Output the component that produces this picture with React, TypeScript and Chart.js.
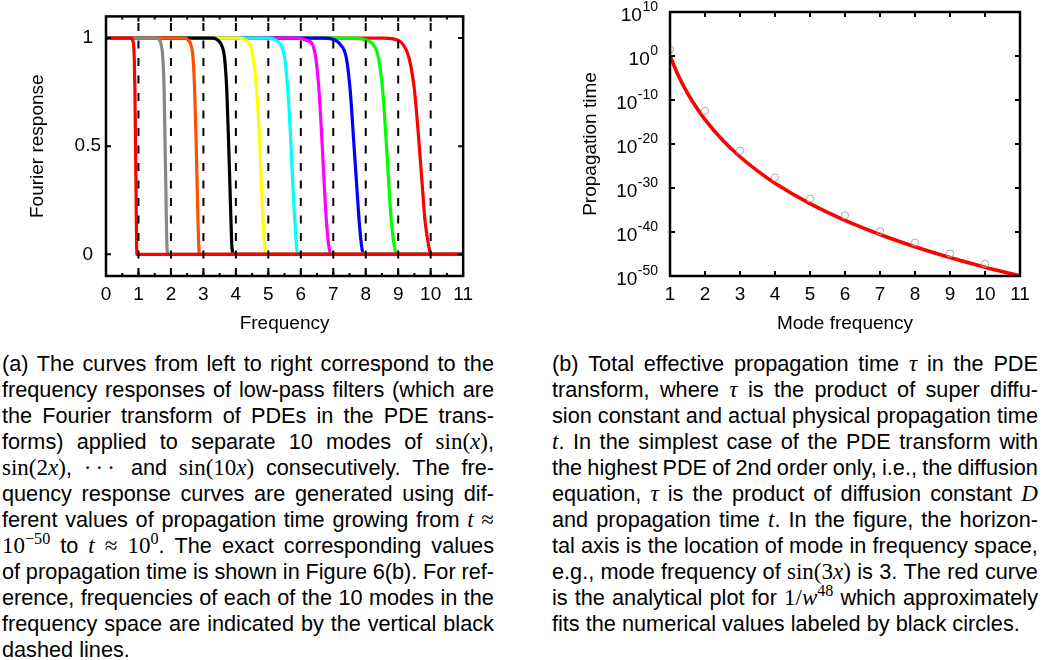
import React, { useEffect, useRef } from 'react';
import { Chart, registerables } from 'chart.js';

Chart.register(...registerables);

// ---------------- Data: panel (a) ----------------
const frequencyTicks = [0, 1, 2, 3, 4, 5, 6, 7, 8, 9, 10, 11];
const frequencyMinorTicks = [0.5, 1.5, 2.5, 3.5, 4.5, 5.5, 6.5, 7.5, 8.5, 9.5, 10.5];
const responseTicks = [0, 0.5, 1];
const responseTickLabels = ['0', '0.5', '1'];
const modeFrequencies = [1, 2, 3, 4, 5, 6, 7, 8, 9, 10];
const filterColors = ['#ff0000', '#888888', '#ff4f00', '#000000', '#ffff00', '#00ffff', '#ff00ff', '#0000ff', '#00ff00', '#ff0000'];
// response level sampled along each filter curve
const responseLevels = [1, 1, 0.99, 0.97, 0.91, 0.76, 0.5, 0.3, 0.15, 0.03, 0, 0];
// frequency at which each filter curve reaches the level above
const filter1X = [0, 0.78, 0.82, 0.85, 0.87, 0.89, 0.91, 0.925, 0.935, 0.945, 0.95, 11];
const filter2X = [0, 1.58, 1.65, 1.70, 1.75, 1.79, 1.82, 1.845, 1.86, 1.88, 1.91, 11];
const filter3X = [0, 2.42, 2.54, 2.61, 2.68, 2.73, 2.78, 2.81, 2.835, 2.86, 2.89, 11];
const filter4X = [0, 3.30, 3.45, 3.55, 3.65, 3.72, 3.78, 3.82, 3.85, 3.88, 3.94, 11];
const filter5X = [0, 4.12, 4.30, 4.43, 4.53, 4.64, 4.74, 4.79, 4.84, 4.89, 4.94, 11];
const filter6X = [0, 5.00, 5.22, 5.38, 5.50, 5.60, 5.70, 5.76, 5.82, 5.87, 5.93, 11];
const filter7X = [0, 5.90, 6.17, 6.36, 6.46, 6.56, 6.66, 6.73, 6.79, 6.87, 6.94, 11];
const filter8X = [0, 6.75, 7.06, 7.22, 7.40, 7.52, 7.64, 7.73, 7.80, 7.88, 7.93, 11];
const filter9X = [0, 7.65, 8.03, 8.23, 8.39, 8.52, 8.64, 8.72, 8.79, 8.89, 8.96, 11];
const filter10X = [0, 8.55, 8.99, 9.15, 9.33, 9.50, 9.65, 9.75, 9.83, 9.95, 10.0, 11];
const filterXs = [filter1X, filter2X, filter3X, filter4X, filter5X, filter6X, filter7X, filter8X, filter9X, filter10X];

// ---------------- Data: panel (b) ----------------
const modeAxisTicks = [1, 2, 3, 4, 5, 6, 7, 8, 9, 10, 11];
const propagationTickExponents = [10, 0, -10, -20, -30, -40, -50];
const fitFrequencies = [1, 1.25, 1.5, 1.75, 2, 2.5, 3, 3.5, 4, 5, 6, 7, 8, 9, 10, 11];
const fitLog10 = [0, -4.65, -8.45, -11.67, -14.45, -19.1, -22.9, -26.1, -28.9, -33.55, -37.35, -40.56, -43.35, -45.8, -48, -50];
const measuredFrequencies = [1, 2, 3, 4, 5, 6, 7, 8, 9, 10];
const measuredLog10 = [1.5, -12.5, -21.5, -27.6, -32.4, -36.2, -39.8, -42.4, -44.9, -47.2];

// ---------------- Captions ----------------
const captionA = [
  '(a) The curves from left to right correspond to the',
  'frequency responses of low-pass filters (which are',
  'the Fourier transform of PDEs in the PDE trans-',
  'forms) applied to separate 10 modes of $sin(x)$,',
  '$sin(2x)$, $···$ and $sin(10x)$ consecutively. The fre-',
  'quency response curves are generated using dif-',
  'ferent values of propagation time growing from $t$ $≈$',
  '$10^{−50}$ to $t$ $≈$ $10^{0}$. The exact corresponding values',
  'of propagation time is shown in Figure 6(b). For ref-',
  'erence, frequencies of each of the 10 modes in the',
  'frequency space are indicated by the vertical black',
  'dashed lines.',
];
const captionB = [
  '(b) Total effective propagation time $τ$ in the PDE',
  'transform, where $τ$ is the product of super diffu-',
  'sion constant and actual physical propagation time',
  '$t$. In the simplest case of the PDE transform with',
  'the highest PDE of 2nd order only, i.e., the diffusion',
  'equation, $τ$ is the product of diffusion constant $D$',
  'and propagation time $t$. In the figure, the horizon-',
  'tal axis is the location of mode in frequency space,',
  'e.g., mode frequency of $sin(3x)$ is 3. The red curve',
  'is the analytical plot for $1/w^{48}$ which approximately',
  'fits the numerical values labeled by black circles.',
];

const SANS = "'Liberation Sans', Arial, Helvetica, sans-serif";
const SERIF = "'Liberation Serif', 'DejaVu Serif', serif";
const AXIS_FONT = { family: SANS, size: 19 };

Chart.defaults.font.family = SANS;
Chart.defaults.color = '#000';

function framePlugin(xMajor: number[], xMinor: number[], yMajor: number[], yIsLog: boolean) {
  return {
    id: 'frameTicks',
    afterDatasetsDraw(chart: any) {
      const { ctx, chartArea: a, scales } = chart;
      ctx.save();
      ctx.strokeStyle = '#000';
      ctx.lineWidth = 2;
      ctx.beginPath();
      for (const v of xMajor) {
        const px = scales.x.getPixelForValue(v);
        ctx.moveTo(px, a.bottom); ctx.lineTo(px, a.bottom - 5);
        ctx.moveTo(px, a.top); ctx.lineTo(px, a.top + 5);
      }
      for (const v of xMinor) {
        const px = scales.x.getPixelForValue(v);
        ctx.moveTo(px, a.bottom); ctx.lineTo(px, a.bottom - 3);
        ctx.moveTo(px, a.top); ctx.lineTo(px, a.top + 3);
      }
      for (const v of yMajor) {
        const py = scales.y.getPixelForValue(yIsLog ? Math.pow(10, v) : v);
        ctx.moveTo(a.left, py); ctx.lineTo(a.left + 5, py);
        ctx.moveTo(a.right, py); ctx.lineTo(a.right - 5, py);
      }
      ctx.stroke();
      ctx.lineWidth = 2.5;
      ctx.strokeRect(a.left, a.top, a.right - a.left, a.bottom - a.top);
      ctx.restore();
    },
  };
}

const powerLabelsPlugin = {
  id: 'powerLabels',
  afterDraw(chart: any) {
    const { ctx, chartArea: a, scales } = chart;
    ctx.save();
    ctx.fillStyle = '#000';
    ctx.textAlign = 'left';
    ctx.textBaseline = 'alphabetic';
    for (const e of propagationTickExponents) {
      const py = scales.y.getPixelForValue(Math.pow(10, e));
      const sup = String(e);
      ctx.font = `14px ${SANS}`;
      const ws = ctx.measureText(sup).width;
      ctx.font = `19px ${SANS}`;
      const wb = ctx.measureText('10').width;
      const right = a.left - 12;
      const base = py + 8.5;
      ctx.fillText('10', right - ws - wb - 0.5, base);
      ctx.font = `14px ${SANS}`;
      ctx.fillText(sup, right - ws, base - 9.3);
    }
    ctx.restore();
  },
};

function filtersConfig(): any {
  const datasets: any[] = [];
  modeFrequencies.forEach((f) => {
    datasets.push({
      data: [{ x: f, y: -0.1 }, { x: f, y: 1.1 }],
      borderColor: '#000',
      borderWidth: 2,
      borderDash: [8, 9.5],
      pointRadius: 0,
      order: 0,
    });
  });
  filterXs.forEach((xs, i) => {
    datasets.push({
      data: xs.map((x, k) => ({ x, y: responseLevels[k] })),
      borderColor: filterColors[i],
      borderWidth: 3.2,
      pointRadius: 0,
      cubicInterpolationMode: 'monotone',
      order: i + 1,
    });
  });
  return {
    type: 'line',
    data: { datasets },
    options: {
      responsive: false,
      animation: false,
      layout: { padding: { top: 12, right: 12, left: 0, bottom: 0 } },
      plugins: { legend: { display: false }, tooltip: { enabled: false } },
      scales: {
        x: {
          type: 'linear', min: 0, max: 11,
          afterBuildTicks: (s: any) => { s.ticks = frequencyTicks.map((v) => ({ value: v })); },
          afterFit: (s: any) => { s.height = 64; },
          grid: { display: false, drawTicks: false },
          border: { display: false },
          ticks: { font: AXIS_FONT, color: '#000', padding: 7, autoSkip: false, maxRotation: 0, callback: (v: any) => String(v) },
          title: { display: true, text: 'Frequency', font: AXIS_FONT, color: '#000', padding: { top: 0, bottom: 5 } },
        },
        y: {
          type: 'linear', min: -0.1, max: 1.1,
          afterBuildTicks: (s: any) => { s.ticks = responseTicks.map((v) => ({ value: v })); },
          afterFit: (s: any) => { s.width = 106; },
          grid: { display: false, drawTicks: false },
          border: { display: false },
          ticks: {
            font: AXIS_FONT, color: '#000', padding: 5, crossAlign: 'center', autoSkip: false,
            callback: (v: any) => responseTickLabels[responseTicks.indexOf(v)] ?? '',
          },
          title: { display: true, text: 'Fourier response', font: AXIS_FONT, color: '#000', padding: { top: 26, bottom: 0 } },
        },
      },
    },
    plugins: [framePlugin(frequencyTicks, frequencyMinorTicks, responseTicks, false)],
  };
}

function propagationConfig(): any {
  return {
    type: 'line',
    data: {
      datasets: [
        {
          data: measuredFrequencies.map((x, i) => ({ x, y: Math.pow(10, measuredLog10[i]) })),
          showLine: false,
          pointRadius: 3.6,
          pointBorderWidth: 1,
          pointBorderColor: '#aaaaaa',
          pointBackgroundColor: 'rgba(0,0,0,0)',
          order: 0,
        },
        {
          data: fitFrequencies.map((x, i) => ({ x, y: Math.pow(10, fitLog10[i]) })),
          borderColor: '#ff0000',
          borderWidth: 3.6,
          pointRadius: 0,
          cubicInterpolationMode: 'monotone',
          order: 1,
        },
      ],
    },
    options: {
      responsive: false,
      animation: false,
      layout: { padding: { top: 12, right: 30, left: 0, bottom: 0 } },
      plugins: { legend: { display: false }, tooltip: { enabled: false } },
      scales: {
        x: {
          type: 'linear', min: 1, max: 11,
          afterBuildTicks: (s: any) => { s.ticks = modeAxisTicks.map((v) => ({ value: v })); },
          afterFit: (s: any) => { s.height = 64; },
          grid: { display: false, drawTicks: false },
          border: { display: false },
          ticks: { font: AXIS_FONT, color: '#000', padding: 7, autoSkip: false, maxRotation: 0, callback: (v: any) => String(v) },
          title: { display: true, text: 'Mode frequency', font: AXIS_FONT, color: '#000', padding: { top: 0, bottom: 5 } },
        },
        y: {
          type: 'logarithmic', min: 1e-50, max: 1e10,
          afterBuildTicks: (s: any) => { s.ticks = propagationTickExponents.map((e) => ({ value: Math.pow(10, e) })); },
          afterFit: (s: any) => { s.width = 140; },
          grid: { display: false, drawTicks: false },
          border: { display: false },
          ticks: { display: false },
          title: { display: true, text: 'Propagation time', font: AXIS_FONT, color: '#000', padding: { top: 49, bottom: 0 } },
        },
      },
    },
    plugins: [framePlugin(modeAxisTicks, [], propagationTickExponents, true), powerLabelsPlugin],
  };
}

function ChartCanvas({ left, top, width, height, make }: { left: number; top: number; width: number; height: number; make: () => any }) {
  const ref = useRef<HTMLCanvasElement | null>(null);
  useEffect(() => {
    if (!ref.current) return;
    const chart = new Chart(ref.current, make());
    return () => chart.destroy();
  }, []);
  return (
    <canvas
      ref={ref}
      width={width}
      height={height}
      style={{ position: 'absolute', left, top, width, height }}
    />
  );
}

function renderMath(s: string, keyBase: string): React.ReactNode[] {
  const out: React.ReactNode[] = [];
  let i = 0;
  let k = 0;
  while (i < s.length) {
    if (s.startsWith('sin', i)) {
      out.push(<span key={keyBase + k++} style={{ fontStyle: 'normal' }}>sin</span>);
      i += 3;
      continue;
    }
    if (s.startsWith('^{', i)) {
      const j = s.indexOf('}', i);
      out.push(
        <span key={keyBase + k++} style={{ fontSize: '0.7em', position: 'relative', top: '-0.55em' }}>
          {renderMath(s.slice(i + 2, j), keyBase + 's' + k)}
        </span>
      );
      i = j + 1;
      continue;
    }
    const c = s[i];
    if (c === '·') {
      out.push(<span key={keyBase + k++} style={{ letterSpacing: '0.18em' }}>{'·'}</span>);
    } else if (/[A-Za-zτ]/.test(c)) {
      out.push(<span key={keyBase + k++} style={{ fontStyle: 'italic' }}>{c}</span>);
    } else {
      out.push(<span key={keyBase + k++} style={{ fontStyle: 'normal' }}>{c}</span>);
    }
    i++;
  }
  return out;
}

function renderWord(w: string, key: string) {
  const parts = w.split('$');
  return (
    <span key={key} style={{ whiteSpace: 'nowrap' }}>
      {parts.map((p, idx) =>
        idx % 2 === 1 ? (
          <span key={idx} style={{ fontFamily: SERIF, fontSize: '1.06em' }}>{renderMath(p, key + '-' + idx + '-')}</span>
        ) : (
          <span key={idx}>{p}</span>
        )
      )}
    </span>
  );
}

function Caption({ lines, left, top, width }: { lines: string[]; left: number; top: number; width: number }) {
  return (
    <div style={{ position: 'absolute', left, top, width, fontFamily: SANS, fontSize: 21.7, color: '#000' }}>
      {lines.map((line, li) => {
        const last = li === lines.length - 1;
        const words = line.split(' ');
        return (
          <div
            key={li}
            style={{
              display: 'flex',
              justifyContent: last ? 'flex-start' : 'space-between',
              columnGap: last ? '0.278em' : 0,
              alignItems: 'baseline',
              height: 26,
              lineHeight: '26px',
              whiteSpace: 'nowrap',
            }}
          >
            {words.map((w, wi) => renderWord(w, `${li}-${wi}`))}
          </div>
        );
      })}
    </div>
  );
}

export default function App() {
  return (
    <div style={{ position: 'absolute', left: 0, top: 0, width: 1050, height: 660, background: '#fff', overflow: 'hidden' }}>
      <ChartCanvas left={0} top={0} width={480} height={340} make={filtersConfig} />
      <ChartCanvas left={530} top={0} width={520} height={340} make={propagationConfig} />
      <Caption lines={captionA} left={2} top={351} width={492} />
      <Caption lines={captionB} left={552} top={351} width={486} />
    </div>
  );
}
